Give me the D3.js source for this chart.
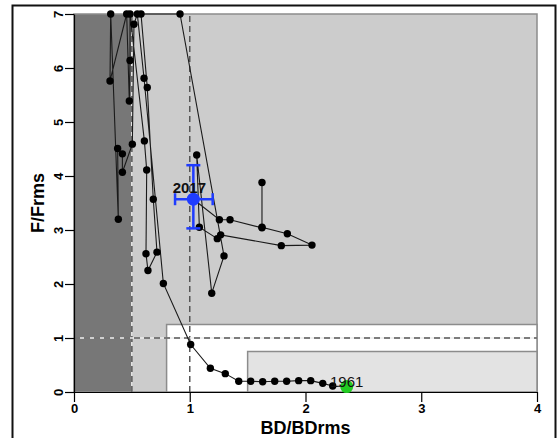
<!DOCTYPE html>
<html>
<head>
<meta charset="utf-8">
<script src="https://cdn.jsdelivr.net/npm/d3@7"></script>
<style>
  body { margin: 0; background: #fff; }
  svg text { font-family: "Liberation Sans", Arial, sans-serif; }
</style>
</head>
<body>
<div id="container"></div>
<script>
// trajectory, first year to last year
const bdRatio = [2.356, 2.235, 2.149, 2.045, 1.941, 1.837, 1.734, 1.63, 1.527, 1.423, 1.307, 1.178, 1.008,
    0.772, 0.605, 0.547, 0.518, 0.504, 0.418, 0.418, 0.377, 0.383, 0.317, 0.311, 0.455, 0.478, 0.484,
    0.484, 0.608, 0.628, 0.622, 0.639, 0.717, 0.685, 0.633, 0.579, 0.916,
    1.296, 1.19, 1.06, 1.083, 1.238, 1.267, 1.791, 2.056, 1.843, 1.624, 1.624, 1.624, 1.348, 1.256, 1.031];
const fRatio = [0.10, 0.11, 0.16, 0.21, 0.21, 0.20, 0.20, 0.19, 0.20, 0.20, 0.34, 0.44, 0.88,
    2.01, 5.81, 7, 6.81, 4.59, 4.07, 4.41, 4.51, 3.20, 7, 5.76, 7, 5.39, 6.14,
    7, 4.65, 4.11, 2.56, 2.25, 2.59, 3.57, 5.64, 7, 7,
    2.52, 1.83, 4.39, 3.05, 2.84, 2.91, 2.71, 2.72, 2.93, 3.05, 3.88, 3.04, 3.19, 3.19, 3.57];
const firstLabel = "1961";
const lastLabel = "2017";

// last year confidence limits
const bdCI = [0.873, 1.198];
const fCI = [3.03, 4.20];

// background zones [x0, x1, y0, y1]
const zones = [[0, 0.5, 0, 7], [0.5, 4, 0, 7], [0.8, 4, 0, 1.25], [1.5, 4, 0, 0.75]];
const zoneFill = ["#777777", "#cccccc", "#ffffff", "#e3e3e3"];

const refV = [0.5, 1];
const refH = [1];
const xTicks = [0, 1, 2, 3, 4];
const yTicks = [0, 1, 2, 3, 4, 5, 6, 7];

const width = 557, height = 438;
const margin = {top: 14, right: 20, bottom: 46, left: 74};

const svg = d3.select("#container").append("svg")
    .attr("width", width)
    .attr("height", height);

// outer frame
svg.append("rect")
    .attr("x", 12.5).attr("y", 5.5)
    .attr("width", 543).attr("height", 440)
    .attr("fill", "none").attr("stroke", "#111").attr("stroke-width", 2);

const x = d3.scaleLinear().domain([0, 4]).range([margin.left, width - margin.right]);
const y = d3.scaleLinear().domain([0, 7]).range([height - margin.bottom, margin.top]);

svg.append("g").selectAll("rect")
    .data(zones)
    .enter()
    .append("rect")
    .attr("x", d => x(d[0]))
    .attr("y", d => y(d[3]))
    .attr("width", d => x(d[1]) - x(d[0]))
    .attr("height", d => y(d[2]) - y(d[3]))
    .attr("fill", (d, i) => zoneFill[i])
    .attr("stroke", "#8c8c8c")
    .attr("stroke-width", 1.5);

// reference lines: light under-line, then dashes
const refs = svg.append("g");
refV.forEach((v, i) => {
    if (i === 0) refs.append("line").attr("x1", x(v)).attr("x2", x(v)).attr("y1", y(0)).attr("y2", y(7))
        .attr("stroke", "#eeeeee").attr("stroke-width", 1.5);
    refs.append("line").attr("x1", x(v)).attr("x2", x(v)).attr("y1", y(0)).attr("y2", y(7))
        .attr("stroke", "#555").attr("stroke-width", 1.5).attr("stroke-dasharray", "6,4");
});
refH.forEach(h => {
    refs.append("line").attr("x1", x(0)).attr("x2", x(4)).attr("y1", y(h)).attr("y2", y(h))
        .attr("stroke", "#eeeeee").attr("stroke-width", 1.5);
    refs.append("line").attr("x1", x(0)).attr("x2", x(4)).attr("y1", y(h)).attr("y2", y(h))
        .attr("stroke", "#555").attr("stroke-width", 1.5).attr("stroke-dasharray", "6,4");
});

// axes
const xAxis = svg.append("g")
    .attr("transform", `translate(0,${y(0)})`)
    .call(d3.axisBottom(x).tickValues(xTicks).tickSize(10).tickSizeOuter(0).tickPadding(2).tickFormat(d3.format("d")));
xAxis.selectAll("text").attr("font-size", 13).attr("font-weight", "bold").attr("fill", "#000");

const yAxis = svg.append("g")
    .attr("transform", `translate(${x(0)},0)`)
    .call(d3.axisLeft(y).tickValues(yTicks).tickSize(9).tickSizeOuter(0).tickFormat(d3.format("d")));
yAxis.selectAll("text")
    .attr("x", 0).attr("dy", 0)
    .attr("text-anchor", "middle")
    .attr("transform", "translate(-11,0) rotate(-90)")
    .attr("font-size", 13).attr("font-weight", "bold").attr("fill", "#000");
svg.selectAll(".domain, .tick line").attr("stroke", "#000").attr("stroke-width", 1.2);

svg.append("text")
    .attr("x", (x(0) + x(4)) / 2).attr("y", 434)
    .attr("text-anchor", "middle")
    .attr("font-size", 18).attr("font-weight", "bold")
    .text("BD/BDrms");

svg.append("text")
    .attr("transform", `translate(44,${(y(0) + y(7)) / 2}) rotate(-90)`)
    .attr("text-anchor", "middle")
    .attr("font-size", 18).attr("font-weight", "bold")
    .text("F/Frms");

// trajectory
const pts = bdRatio.map((b, i) => [b, fRatio[i]]);
const line = d3.line().x(d => x(d[0])).y(d => y(d[1]));

svg.append("path")
    .datum(pts)
    .attr("d", line)
    .attr("fill", "none")
    .attr("stroke", "#1a1a1a")
    .attr("stroke-width", 1.1);

svg.append("g").selectAll("circle")
    .data(pts)
    .enter()
    .append("circle")
    .attr("cx", d => x(d[0]))
    .attr("cy", d => y(d[1]))
    .attr("r", 3.7)
    .attr("fill", "#000");

// last year with CI
const last = pts[pts.length - 1];
const ci = svg.append("g").attr("stroke", "#1f3cff").attr("stroke-width", 2.5);
ci.append("line").attr("x1", x(bdCI[0])).attr("x2", x(bdCI[1])).attr("y1", y(last[1])).attr("y2", y(last[1]));
ci.append("line").attr("x1", x(last[0])).attr("x2", x(last[0])).attr("y1", y(fCI[0])).attr("y2", y(fCI[1]));
bdCI.forEach(v => ci.append("line").attr("x1", x(v)).attr("x2", x(v)).attr("y1", y(last[1]) - 6).attr("y2", y(last[1]) + 6));
fCI.forEach(v => ci.append("line").attr("y1", y(v)).attr("y2", y(v)).attr("x1", x(last[0]) - 7).attr("x2", x(last[0]) + 7));
svg.append("circle")
    .attr("cx", x(last[0])).attr("cy", y(last[1]))
    .attr("r", 6.5).attr("fill", "#1f3cff");

svg.append("text")
    .attr("x", x(last[0]) - 4).attr("y", y(last[1]) - 6)
    .attr("text-anchor", "middle")
    .attr("font-size", 15).attr("font-weight", "bold").attr("fill", "#111")
    .text(lastLabel);

// first year
const first = pts[0];
svg.append("circle")
    .attr("cx", x(first[0])).attr("cy", y(first[1]))
    .attr("r", 6.5).attr("fill", "#22cc22");
svg.append("text")
    .attr("x", x(first[0])).attr("y", y(first[1]) + 0)
    .attr("text-anchor", "middle")
    .attr("font-size", 15).attr("fill", "#111")
    .text(firstLabel);
</script>
</body>
</html>
